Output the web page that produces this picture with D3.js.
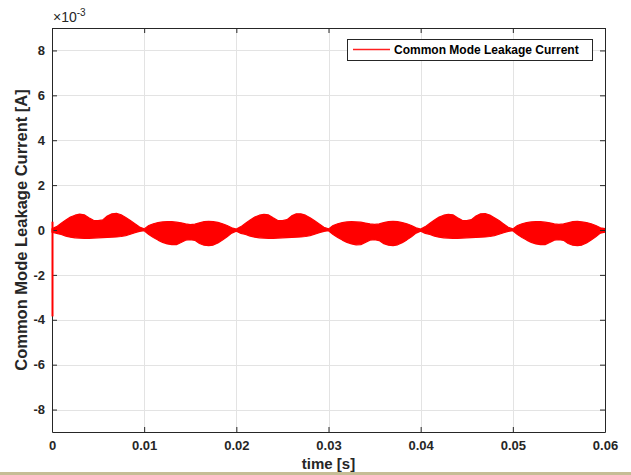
<!DOCTYPE html>
<html>
<head>
<meta charset="utf-8">
<script src="https://cdn.jsdelivr.net/npm/d3@7"></script>
<style>
  body { margin: 0; background: #fff; }
  svg { display: block; font-family: "Liberation Sans", Arial, sans-serif; }
</style>
</head>
<body>
<svg></svg>
<script>
// envelope sample times [ms]
let timeMs = [
  0, 0.5, 1, 1.5, 2, 2.5, 3, 3.5, 4, 4.5, 5, 5.5, 6, 6.5, 7, 7.5, 8, 8.5, 9, 9.5,
  10, 10.5, 11, 11.5, 12, 12.5, 13, 13.5, 14, 14.5, 15, 15.5, 16, 16.5, 17, 17.5, 18, 18.5, 19, 19.5,
  20, 20.5, 21, 21.5, 22, 22.5, 23, 23.5, 24, 24.5, 25, 25.5, 26, 26.5, 27, 27.5, 28, 28.5, 29, 29.5,
  30, 30.5, 31, 31.5, 32, 32.5, 33, 33.5, 34, 34.5, 35, 35.5, 36, 36.5, 37, 37.5, 38, 38.5, 39, 39.5,
  40, 40.5, 41, 41.5, 42, 42.5, 43, 43.5, 44, 44.5, 45, 45.5, 46, 46.5, 47, 47.5, 48, 48.5, 49, 49.5,
  50, 50.5, 51, 51.5, 52, 52.5, 53, 53.5, 54, 54.5, 55, 55.5, 56, 56.5, 57, 57.5, 58, 58.5, 59, 59.5, 60
];
// upper / lower envelope of the leakage current [x1e-3 A]
let upperEnv = [
  0.05, 0.15, 0.3, 0.45, 0.58, 0.66, 0.71, 0.68, 0.55, 0.43, 0.42, 0.45, 0.62, 0.72, 0.74, 0.68, 0.56, 0.42, 0.28, 0.13,
  0.05, 0.2, 0.28, 0.33, 0.36, 0.37, 0.37, 0.35, 0.32, 0.27, 0.24, 0.26, 0.32, 0.37, 0.38, 0.37, 0.34, 0.28, 0.2, 0.1,
  0.04, 0.15, 0.3, 0.45, 0.58, 0.66, 0.7, 0.67, 0.54, 0.42, 0.42, 0.46, 0.63, 0.72, 0.72, 0.66, 0.55, 0.41, 0.27, 0.12,
  0.05, 0.2, 0.28, 0.33, 0.36, 0.37, 0.36, 0.35, 0.31, 0.27, 0.25, 0.27, 0.33, 0.37, 0.38, 0.37, 0.33, 0.28, 0.2, 0.1,
  0.04, 0.15, 0.3, 0.45, 0.58, 0.66, 0.7, 0.68, 0.55, 0.43, 0.42, 0.46, 0.62, 0.72, 0.73, 0.67, 0.55, 0.42, 0.27, 0.12,
  0.05, 0.2, 0.28, 0.33, 0.36, 0.37, 0.37, 0.35, 0.32, 0.27, 0.25, 0.27, 0.32, 0.37, 0.38, 0.36, 0.33, 0.28, 0.2, 0.1, 0.06
];
let lowerEnv = [
  -0.1, -0.15, -0.2, -0.27, -0.32, -0.35, -0.36, -0.37, -0.37, -0.36, -0.35, -0.34, -0.33, -0.32, -0.31, -0.29, -0.25, -0.19, -0.12, -0.06,
  -0.03, -0.2, -0.33, -0.45, -0.55, -0.62, -0.65, -0.65, -0.56, -0.45, -0.43, -0.46, -0.6, -0.68, -0.7, -0.67, -0.58, -0.45, -0.3, -0.14,
  -0.05, -0.15, -0.2, -0.27, -0.32, -0.35, -0.36, -0.37, -0.37, -0.36, -0.35, -0.34, -0.33, -0.32, -0.31, -0.29, -0.25, -0.19, -0.12, -0.06,
  -0.03, -0.2, -0.33, -0.45, -0.55, -0.62, -0.66, -0.65, -0.55, -0.45, -0.43, -0.47, -0.61, -0.68, -0.7, -0.66, -0.57, -0.44, -0.3, -0.14,
  -0.05, -0.15, -0.2, -0.27, -0.32, -0.35, -0.36, -0.37, -0.37, -0.36, -0.35, -0.34, -0.33, -0.32, -0.31, -0.29, -0.25, -0.19, -0.12, -0.06,
  -0.03, -0.2, -0.33, -0.45, -0.55, -0.62, -0.65, -0.65, -0.56, -0.45, -0.43, -0.46, -0.6, -0.68, -0.7, -0.67, -0.58, -0.45, -0.3, -0.14, -0.1
];
// start-up transient at t = 0 [x1e-3 A]
let spikeTop = 0.37;
let spikeBottom = -3.85;

let xTicks = [0, 0.01, 0.02, 0.03, 0.04, 0.05, 0.06];
let xTickLabels = ["0", "0.01", "0.02", "0.03", "0.04", "0.05", "0.06"];
let yTicks = [-8, -6, -4, -2, 0, 2, 4, 6, 8];
let yTickLabels = ["-8", "-6", "-4", "-2", "0", "2", "4", "6", "8"];
let seriesName = "Common Mode Leakage Current";

let W = 631, H = 475;
let svg = d3.select("svg").attr("width", W).attr("height", H);

let margin = { left: 52, right: 26, top: 28, bottom: 43 };
let x = d3.scaleLinear().domain([0, 0.06]).range([margin.left, W - margin.right]);
let y = d3.scaleLinear().domain([-9, 9]).range([H - margin.bottom, margin.top]);

// grid
let grid = svg.append("g").style("stroke", "#e3e3e3").style("stroke-width", 1);
grid.selectAll(".gx").data(xTicks.slice(1, -1)).enter().append("line")
    .attr("x1", d => Math.round(x(d)) + 0.5).attr("x2", d => Math.round(x(d)) + 0.5)
    .attr("y1", y(9)).attr("y2", y(-9));
grid.selectAll(".gy").data(yTicks).enter().append("line")
    .attr("y1", d => Math.round(y(d)) + 0.5).attr("y2", d => Math.round(y(d)) + 0.5)
    .attr("x1", x(0)).attr("x2", x(0.06));

// signal band
let data = timeMs.map((t, i) => ({ t: t / 1000, hi: upperEnv[i], lo: lowerEnv[i] }));
let area = d3.area().x(d => x(d.t)).y0(d => y(d.lo)).y1(d => y(d.hi));
svg.append("path").attr("d", area(data)).attr("fill", "#ff0000")
    .attr("stroke", "#ff0000").attr("stroke-width", 1.2).attr("stroke-linejoin", "round");

// axes
let axisColor = "#262626";
let xAxis = svg.append("g").attr("transform", `translate(0,${y(-9)})`)
    .call(d3.axisBottom(x).tickValues(xTicks).tickFormat((d, i) => xTickLabels[i]).tickSizeInner(-5).tickSizeOuter(0).tickPadding(9));
let yAxis = svg.append("g").attr("transform", `translate(${x(0)},0)`)
    .call(d3.axisLeft(y).tickValues(yTicks).tickFormat((d, i) => yTickLabels[i]).tickSizeInner(-5).tickSizeOuter(0).tickPadding(7));
let xTop = svg.append("g").attr("transform", `translate(0,${y(9)})`)
    .call(d3.axisTop(x).tickValues(xTicks).tickFormat("").tickSizeInner(-5).tickSizeOuter(0));
let yRight = svg.append("g").attr("transform", `translate(${x(0.06)},0)`)
    .call(d3.axisRight(y).tickValues(yTicks).tickFormat("").tickSizeInner(-5).tickSizeOuter(0));
[xAxis, yAxis, xTop, yRight].forEach(a => {
    a.selectAll("path").attr("stroke", axisColor);
    a.selectAll("line").attr("stroke", axisColor);
    a.selectAll("text").style("font-size", "13px").style("font-weight", "bold").attr("fill", "#262626");
});

// transient drawn over the axis line
svg.append("line")
    .attr("x1", x(0) + 0.5).attr("x2", x(0) + 0.5)
    .attr("y1", y(spikeTop)).attr("y2", y(spikeBottom))
    .attr("stroke", "#ff0000").attr("stroke-width", 2);

// exponent label
let expo = svg.append("text").attr("x", 53).attr("y", 22)
    .style("font-size", "14px").attr("fill", "#262626");
expo.append("tspan").text("\u00d710");
expo.append("tspan").attr("dy", -6).style("font-size", "10px").text("-3");

// axis titles
svg.append("text").attr("x", x(0.03)).attr("y", 469).attr("text-anchor", "middle")
    .style("font-size", "15px").style("font-weight", "bold").attr("fill", "#262626").text("time [s]");
svg.append("text").attr("transform", `translate(27,${y(0)}) rotate(-90)`).attr("text-anchor", "middle")
    .style("font-size", "16.5px").style("font-weight", "bold").attr("fill", "#262626")
    .text("Common Mode Leakage Current [A]");

// legend
let legend = svg.append("g");
legend.append("rect").attr("x", 347.5).attr("y", 39.5).attr("width", 245).attr("height", 21)
    .attr("fill", "#fff").attr("stroke", "#262626").attr("stroke-width", 1);
legend.append("line").attr("x1", 353).attr("x2", 390).attr("y1", 49.5).attr("y2", 49.5)
    .attr("stroke", "#ff2020").attr("stroke-width", 1.5);
legend.append("text").attr("x", 394).attr("y", 54).style("font-size", "12px").style("font-weight", "bold")
    .attr("fill", "#000").text(seriesName);

// bottom strip of the window
svg.append("rect").attr("x", 0).attr("y", 472).attr("width", W).attr("height", 3).attr("fill", "#c6bd96");
</script>
</body>
</html>
